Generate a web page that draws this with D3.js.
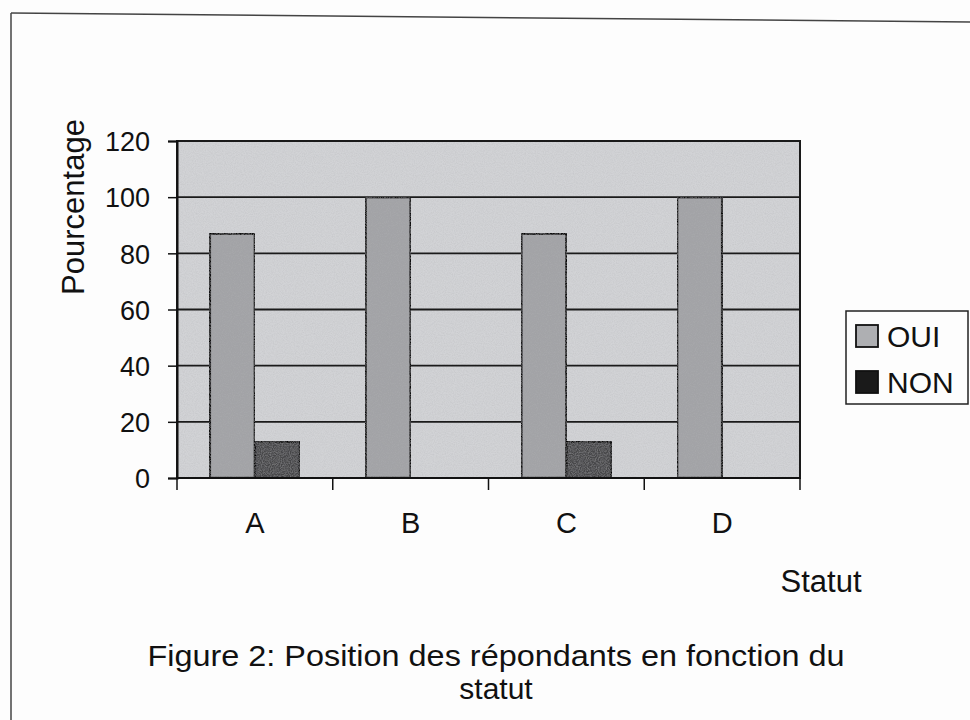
<!DOCTYPE html>
<html><head><meta charset="utf-8">
<script src="https://cdn.jsdelivr.net/npm/d3@7"></script>
<style>html,body{margin:0;padding:0;background:#fdfdfd;}svg{display:block;}</style>
</head><body>
<script>
const categories = ["A", "B", "C", "D"];
const seriesNames = ["OUI", "NON"];
const ouiValues = [87, 100, 87, 100];
const nonValues = [13, 0, 13, 0];
const yTicks = [0, 20, 40, 60, 80, 100, 120];
const xTitle = "Statut";
const yTitle = "Pourcentage";
const captionLines = ["Figure 2: Position des répondants en fonction du", "statut"];

const W = 970, H = 720;
const m = {left: 177, right: 800, top: 141, bottom: 478};
const font = "'Liberation Sans', Arial, sans-serif";

const svg = d3.select("body").append("svg").attr("width", W).attr("height", H);
const defs = svg.append("defs");
const f = defs.append("filter").attr("id","grain").attr("x",0).attr("y",0).attr("width",1).attr("height",1);
f.append("feTurbulence").attr("type","fractalNoise").attr("baseFrequency",0.9).attr("numOctaves",2).attr("seed",3).attr("result","n");
f.append("feColorMatrix").attr("in","n").attr("type","matrix")
  .attr("values","0 0 0 0 0.45  0 0 0 0 0.45  0 0 0 0 0.47  0 0 0 0.6 -0.2").attr("result","g");
f.append("feComposite").attr("in","g").attr("in2","SourceGraphic").attr("operator","in").attr("result","gc");
f.append("feMerge").call(s=>{s.append("feMergeNode").attr("in","SourceGraphic");s.append("feMergeNode").attr("in","gc");});

// outer frame
svg.append("line").attr("x1",11).attr("y1",13).attr("x2",970).attr("y2",22).attr("stroke","#444").attr("stroke-width",1.5);
svg.append("line").attr("x1",11).attr("y1",13).attr("x2",11).attr("y2",720).attr("stroke","#444").attr("stroke-width",1.5);

const x0 = d3.scaleBand().domain(categories).range([m.left, m.right]).paddingInner(0).paddingOuter(0);
const x1 = d3.scaleBand().domain(seriesNames).range([0, x0.bandwidth()]).paddingInner(0).paddingOuter(0.73);
const y = d3.scaleLinear().domain([0, 120]).range([m.bottom, m.top]);

// plot background
svg.append("rect").attr("x",m.left).attr("y",m.top).attr("width",m.right-m.left).attr("height",m.bottom-m.top)
  .attr("fill","#d2d3d6").attr("filter","url(#grain)");

// gridlines
svg.append("g").selectAll("line").data(yTicks.filter(t=>t>0)).join("line")
  .attr("x1",m.left).attr("x2",m.right).attr("y1",d=>y(d)).attr("y2",d=>y(d))
  .attr("stroke","#1a1a1a").attr("stroke-width",1.8);

// bars
const data = categories.map((c,i)=>({cat:c, vals:[{s:"OUI",v:ouiValues[i]},{s:"NON",v:nonValues[i]}]}));
const fills = {OUI:"#a2a3a6", NON:"#46464a"};
const g = svg.append("g").selectAll("g").data(data).join("g").attr("transform",d=>`translate(${x0(d.cat)},0)`);
g.selectAll("rect").data(d=>d.vals.filter(v=>v.v>0)).join("rect")
  .attr("x",d=>x1(d.s)).attr("width",x1.bandwidth())
  .attr("y",d=>y(d.v)).attr("height",d=>y(0)-y(d.v))
  .attr("fill",d=>fills[d.s]).attr("stroke","#111").attr("stroke-width",2.4).attr("filter","url(#grain)");

// plot border
svg.append("rect").attr("x",m.left).attr("y",m.top).attr("width",m.right-m.left).attr("height",m.bottom-m.top)
  .attr("fill","none").attr("stroke","#1a1a1a").attr("stroke-width",2);

// y axis
const yAxis = d3.axisLeft(y).tickValues(yTicks).tickSize(9).tickPadding(18);
const ya = svg.append("g").attr("transform",`translate(${m.left},0)`).call(yAxis);
ya.select(".domain").attr("stroke","#111").attr("stroke-width",2);
ya.selectAll(".tick line").attr("stroke","#111").attr("stroke-width",1.5);
ya.selectAll("text").attr("font-family",font).attr("font-size",27).attr("fill","#111").attr("dy","0.36em");

// x axis (ticks at category boundaries)
const xa = svg.append("g").attr("transform",`translate(0,${m.bottom})`);
xa.append("line").attr("x1",m.left).attr("x2",m.right).attr("stroke","#111").attr("stroke-width",2);
const bounds = categories.map(c=>x0(c)).concat([m.right]);
xa.selectAll("line.tk").data(bounds).join("line").attr("class","tk")
  .attr("x1",d=>d).attr("x2",d=>d)
  .attr("y1",0).attr("y2",12).attr("stroke","#111").attr("stroke-width",1.5);
xa.selectAll("text").data(categories).join("text")
  .attr("x",d=>x0(d)+x0.bandwidth()/2).attr("y",55).attr("text-anchor","middle")
  .attr("font-family",font).attr("font-size",29).attr("fill","#111").text(d=>d);

// axis titles
svg.append("text").attr("transform","translate(84,207) rotate(-90)").attr("text-anchor","middle")
  .attr("font-family",font).attr("font-size",31).attr("fill","#111").text(yTitle);
svg.append("text").attr("x",821).attr("y",592).attr("text-anchor","middle")
  .attr("font-family",font).attr("font-size",31).attr("fill","#111").text(xTitle);

// caption
svg.selectAll("text.cap").data(captionLines).join("text").attr("class","cap")
  .attr("x",496).attr("y",(d,i)=>666+i*33).attr("text-anchor","middle")
  .attr("font-family",font).attr("font-size",30).attr("fill","#111")
  .each(function(d,i){ if(i===0) d3.select(this).attr("textLength",697).attr("lengthAdjust","spacingAndGlyphs"); })
  .text(d=>d);

// legend
const lg = svg.append("g");
lg.append("rect").attr("x",846).attr("y",311).attr("width",122).attr("height",93).attr("fill","#fdfdfd").attr("stroke","#222").attr("stroke-width",1.5);
const li = lg.selectAll("g").data(seriesNames).join("g").attr("transform",(d,i)=>`translate(856,${325+i*46})`);
li.append("rect").attr("width",22).attr("height",22).attr("fill",d=>d==="OUI"?"#aeafb2":"#1a1a1a").attr("stroke","#111").attr("stroke-width",1.8);
li.append("text").attr("x",31).attr("y",22).attr("font-family",font).attr("font-size",30).attr("fill","#111").text(d=>d);
</script>
</body></html>
